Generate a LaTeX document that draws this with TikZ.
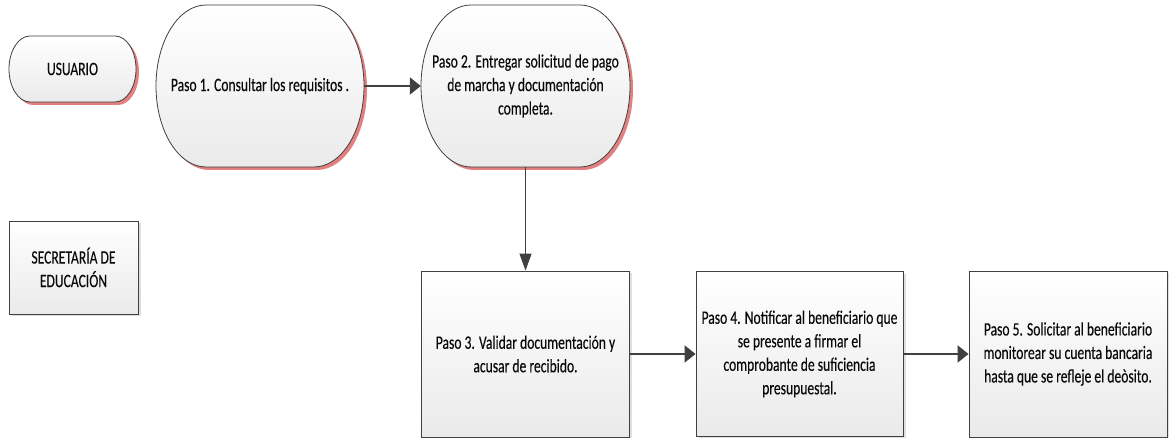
\documentclass[tikz,border=0pt]{standalone}
\usepackage{fontspec}
\setmainfont{Carlito}[FakeStretch=0.715,FakeBold=0.25]
\usetikzlibrary{arrows.meta,shadows,backgrounds}
\definecolor{shadowred}{RGB}{226,128,128}
\definecolor{linegray}{RGB}{64,64,64}
\definecolor{fillgray}{RGB}{234,234,234}
\definecolor{textblack}{RGB}{10,10,10}
\tikzset{
  txt/.style={draw=none, align=center, text=textblack, inner sep=0pt,
    font=\fontsize{19}{23.5}\selectfont},
  termline/.style={draw=linegray, line width=0.8pt},
  stepbox/.style={txt, draw=linegray, line width=0.9pt,
    top color=white, bottom color=fillgray,
    drop shadow={shadow xshift=2.5pt, shadow yshift=-2.5pt, opacity=0.25, fill=gray}},
  harrow/.style={draw=linegray, line width=2.2pt, -{Triangle[length=11pt,width=17pt]}},
  varrow/.style={draw=linegray, line width=1.2pt, -{Triangle[length=17pt,width=12pt]}},
}
% #1 cx, #2 cy, #3 half width, #4 half height, #5 corner x radius
\newcommand{\termshape}[5]{%
  \fill[shadowred] (#1-#3+#5+3,#2-#4-3) -- (#1+#3-#5+3,#2-#4-3)
    arc[start angle=-90,end angle=90,x radius=#5,y radius=#4]
    -- (#1-#3+#5+3,#2+#4-3)
    arc[start angle=90,end angle=270,x radius=#5,y radius=#4] -- cycle;
  \path[termline, top color=white, bottom color=fillgray]
    (#1-#3+#5,#2-#4) -- (#1+#3-#5,#2-#4)
    arc[start angle=-90,end angle=90,x radius=#5,y radius=#4]
    -- (#1-#3+#5,#2+#4)
    arc[start angle=90,end angle=270,x radius=#5,y radius=#4] -- cycle;
}
\begin{document}
\begin{tikzpicture}[x=1pt,y=1pt]
\useasboundingbox (0,0) rectangle (1169,438);
\fill[white] (0,0) rectangle (1169,438);

% terminator shapes
\termshape{72.5}{369}{63.5}{33}{21}
\termshape{260}{352}{104}{81}{50}
\termshape{525.5}{352}{104.5}{81}{50}

% nodes
\node[txt, minimum width=127pt, minimum height=66pt] (usr) at (72.5,369) {USUARIO};
\node[txt, minimum width=208pt, minimum height=162pt] (p1) at (260,352) {Paso 1. Consultar los requisitos .};
\node[txt, minimum width=209pt, minimum height=162pt] (p2) at (525.5,352)
  {Paso 2. Entregar solicitud de pago\\de marcha y documentación\\completa.};

\node[stepbox, minimum width=129pt, minimum height=93pt] (sec) at (73.5,170.5)
  {SECRETARÍA DE\\EDUCACIÓN};
\node[stepbox, minimum width=208pt, minimum height=166pt] (p3) at (525.5,84)
  {Paso 3. Validar documentación y\\acusar de recibido.};
\node[stepbox, minimum width=207pt, minimum height=165pt] (p4) at (799.5,84)
  {Paso 4. Notificar al beneficiario que\\se presente a firmar el\\comprobante de suficiencia\\presupuestal.};
\node[stepbox, minimum width=198pt, minimum height=166pt] (p5) at (1068,84)
  {Paso 5. Solicitar al beneficiario\\monitorear su cuenta bancaria\\hasta que se refleje el deòsito.};

% connectors
\draw[harrow] (p1.east) -- (p2.west);
\draw[varrow] (p2.south) -- (p3.north);
\draw[harrow] (p3.east) -- (p4.west);
\draw[harrow] (p4.east) -- (p5.west);
\end{tikzpicture}
\end{document}
